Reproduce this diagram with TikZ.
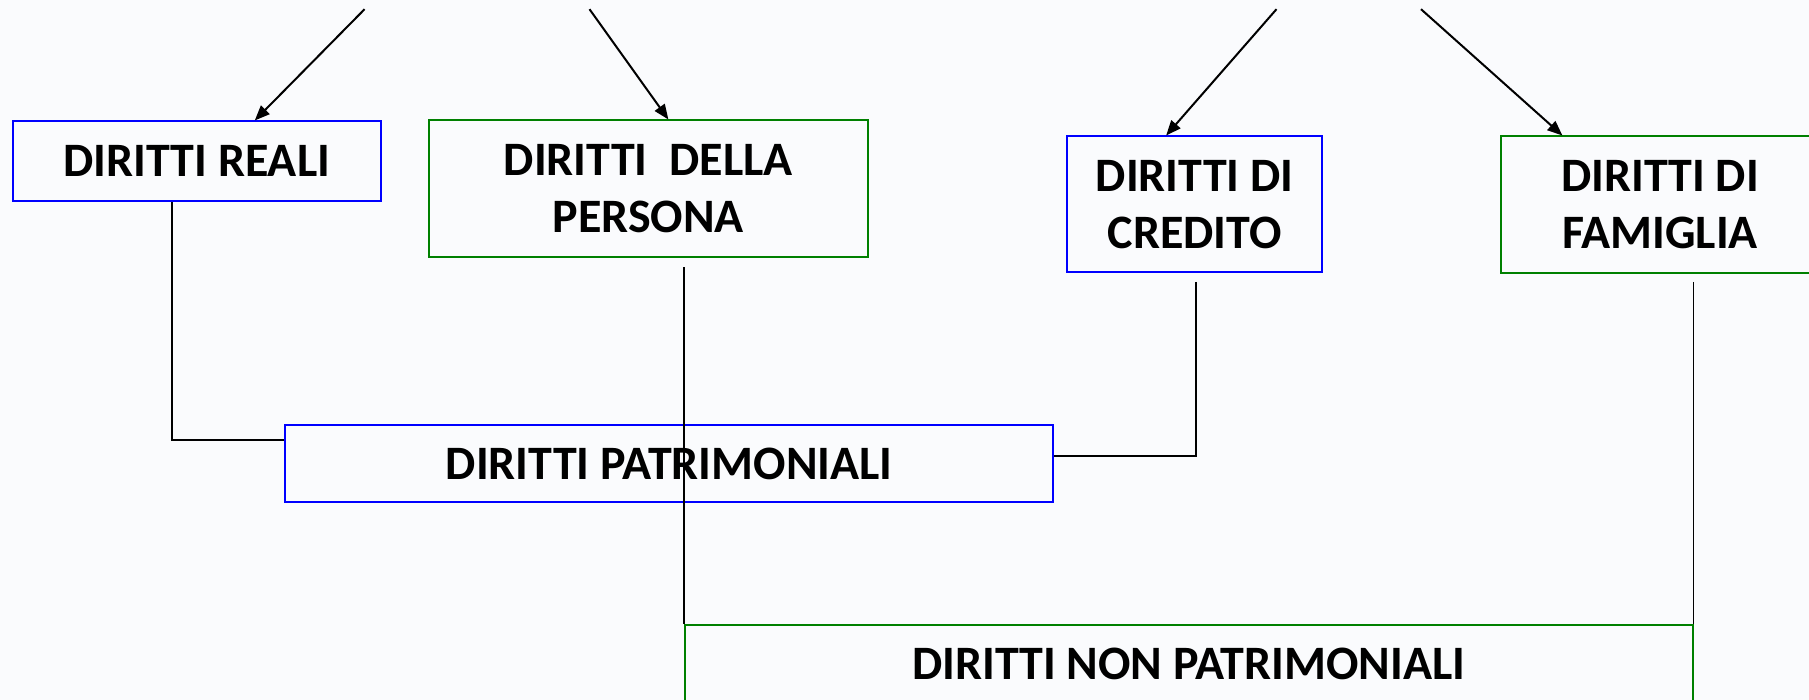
\documentclass[tikz,border=0pt]{standalone}
\usepackage{fontspec}
\setmainfont{Carlito}
\usetikzlibrary{calc,arrows.meta}
\definecolor{bgc}{HTML}{FAFBFD}
\definecolor{bboxc}{RGB}{0,0,255}
\definecolor{gboxc}{RGB}{0,128,0}
\tikzset{
  txt/.style={font=\bfseries\fontsize{48}{57}\selectfont, align=center, inner sep=0pt},
  bluebox/.style={txt, draw=bboxc, line width=2pt},
  greenbox/.style={txt, draw=gboxc, line width=2pt},
  arr/.style={line width=2pt, -{Triangle[length=15pt,width=12pt]}},
  conn/.style={line width=1.8pt, black}
}
\begin{document}
\begin{tikzpicture}[x=1pt,y=-1pt]
\fill[bgc] (0,0) rectangle (1809,700);
\useasboundingbox (0,0) rectangle (1809,700);
\clip (0,0) rectangle (1809,700);

\node[bluebox, minimum width=368pt, minimum height=79.5pt] (reali) at (196.7,161.2) {DIRITTI REALI};
\node[greenbox, minimum width=438.6pt, minimum height=137pt] (persona) at (648.3,189) {DIRITTI\ \ DELLA\\PERSONA};
\node[bluebox, minimum width=255.5pt, minimum height=136pt] (credito) at (1194.7,204.5) {DIRITTI DI\\CREDITO};
\node[greenbox, minimum width=318pt, minimum height=137pt] (famiglia) at (1660,205) {DIRITTI DI\\FAMIGLIA};
\node[bluebox, minimum width=768.5pt, minimum height=77pt] (patr) at (669.2,463.5) {DIRITTI PATRIMONIALI};
\node[greenbox, minimum width=1007.5pt, minimum height=78pt] (nonpatr) at (1188.8,664) {DIRITTI NON PATRIMONIALI};

\coordinate (s1) at (364.6,9.2);
\coordinate (s2) at (589.5,9.2);
\coordinate (s3) at (1276.5,9.2);
\coordinate (s4) at (1421,9.2);

\draw[arr] (s1) -- ($(reali.north west)!0.657!(reali.north east)$);
\draw[arr] (s2) -- ($(persona.north west)!0.5456!(persona.north east)$);
\draw[arr] (s3) -- ($(credito.north west)!0.389!(credito.north east)$);
\draw[arr] (s4) -- ($(famiglia.north west)!0.195!(famiglia.north east)$);

\draw[conn] ($(reali.south west)+(160.3,0)$) |- ($(patr.north west)+(0,16)$);
\draw[conn] ($(nonpatr.north west |- persona.south)+(0,9)$) -- (nonpatr.north west);
\draw[conn] ($(credito.south west)+(129.8,8.5)$) |- ($(patr.north east)+(0,32)$);
\draw[conn] ($(nonpatr.north east |- famiglia.south)+(0,7.5)$) -- (nonpatr.north east);
\end{tikzpicture}
\end{document}
